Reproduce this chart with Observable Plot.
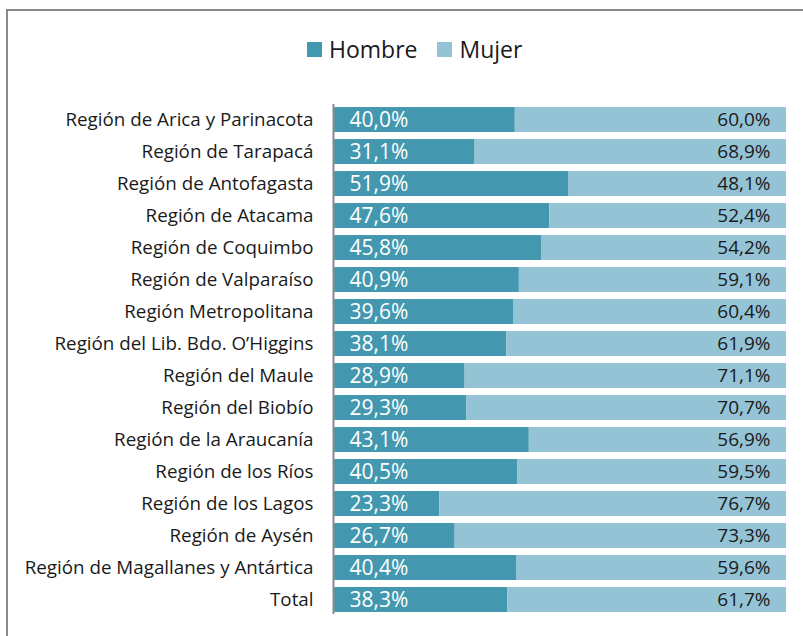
<!DOCTYPE html>
<html>
<head>
<meta charset="utf-8">
<script src="https://cdn.jsdelivr.net/npm/d3@7"></script>
<script src="https://cdn.jsdelivr.net/npm/@observablehq/plot@0.6"></script>
<style>
  html, body { margin: 0; padding: 0; width: 803px; height: 636px; overflow: hidden; background: #fff; }
  #frame { position: absolute; left: 6px; top: 9px; width: 900px; height: 700px; border: 2px solid #8a8a8a; box-sizing: border-box; }
  #legend { position: absolute; left: 307px; top: 33px; display: flex; align-items: center; font-family: "Open Sans", sans-serif; font-size: 23px; color: #1a1a1a; }
  #legend .sw { width: 15px; height: 15px; display: inline-block; margin-right: 7px; }
  #legend .item { display: flex; align-items: center; margin-right: 20px; }
  #chart { position: absolute; left: 0; top: 0; }
</style>
</head>
<body>
<div id="frame"></div>
<div id="legend"></div>
<div id="chart"></div>
<script>
const regions = [
  "Región de Arica y Parinacota",
  "Región de Tarapacá",
  "Región de Antofagasta",
  "Región de Atacama",
  "Región de Coquimbo",
  "Región de Valparaíso",
  "Región Metropolitana",
  "Región del Lib. Bdo. O’Higgins",
  "Región del Maule",
  "Región del Biobío",
  "Región de la Araucanía",
  "Región de los Ríos",
  "Región de los Lagos",
  "Región de Aysén",
  "Región de Magallanes y Antártica",
  "Total"
];
const hombre = [40.0, 31.1, 51.9, 47.6, 45.8, 40.9, 39.6, 38.1, 28.9, 29.3, 43.1, 40.5, 23.3, 26.7, 40.4, 38.3];
const mujer  = [60.0, 68.9, 48.1, 52.4, 54.2, 59.1, 60.4, 61.9, 71.1, 70.7, 56.9, 59.5, 76.7, 73.3, 59.6, 61.7];
const series = ["Hombre", "Mujer"];
const colors = ["#4398b0", "#93c3d5"];

const data = [
  ...regions.map((r, i) => ({region: r, sex: "Hombre", value: hombre[i]})),
  ...regions.map((r, i) => ({region: r, sex: "Mujer", value: mujer[i]}))
];
const fmt = v => v.toFixed(1).replace(".", ",") + "%";

// legend
const legend = document.getElementById("legend");
series.forEach((s, i) => {
  const item = document.createElement("div");
  item.className = "item";
  const sw = document.createElement("span");
  sw.className = "sw";
  sw.style.background = colors[i];
  const t = document.createElement("span");
  t.textContent = s;
  item.appendChild(sw);
  item.appendChild(t);
  legend.appendChild(item);
});

const chart = Plot.plot({
  width: 803,
  height: 636,
  marginLeft: 334,
  marginRight: 17,
  marginTop: 100,
  marginBottom: 17,
  style: {fontFamily: "'Open Sans', sans-serif", background: "transparent"},
  x: {domain: [0, 100], axis: null},
  y: {domain: regions, paddingInner: 0.22, paddingOuter: 0.22, align: 0.5, round: false, label: null},
  color: {domain: series, range: colors},
  marks: [
    Plot.barX(data, Plot.stackX({x: "value", y: "region", fill: "sex", z: "sex"})),
    Plot.text(data, Plot.stackX1({
      x: "value", y: "region", z: "sex",
      text: d => d.sex === "Hombre" ? fmt(d.value) : null,
      textAnchor: "start", dx: 15, fill: "white", fontSize: 21
    })),
    Plot.text(data, Plot.stackX2({
      x: "value", y: "region", z: "sex",
      text: d => d.sex === "Mujer" ? fmt(d.value) : null,
      textAnchor: "end", dx: -16, fill: "#1a1a1a", fontSize: 19
    })),
    Plot.ruleX([0], {stroke: "#8a8a8a", strokeWidth: 2, dx: -1, insetTop: 4, insetBottom: 5}),
    Plot.axisY({tickSize: 0, tickPadding: 21, fontSize: 18.8, fill: "#1a1a1a", label: null})
  ]
});
document.getElementById("chart").appendChild(chart);
</script>
</body>
</html>
